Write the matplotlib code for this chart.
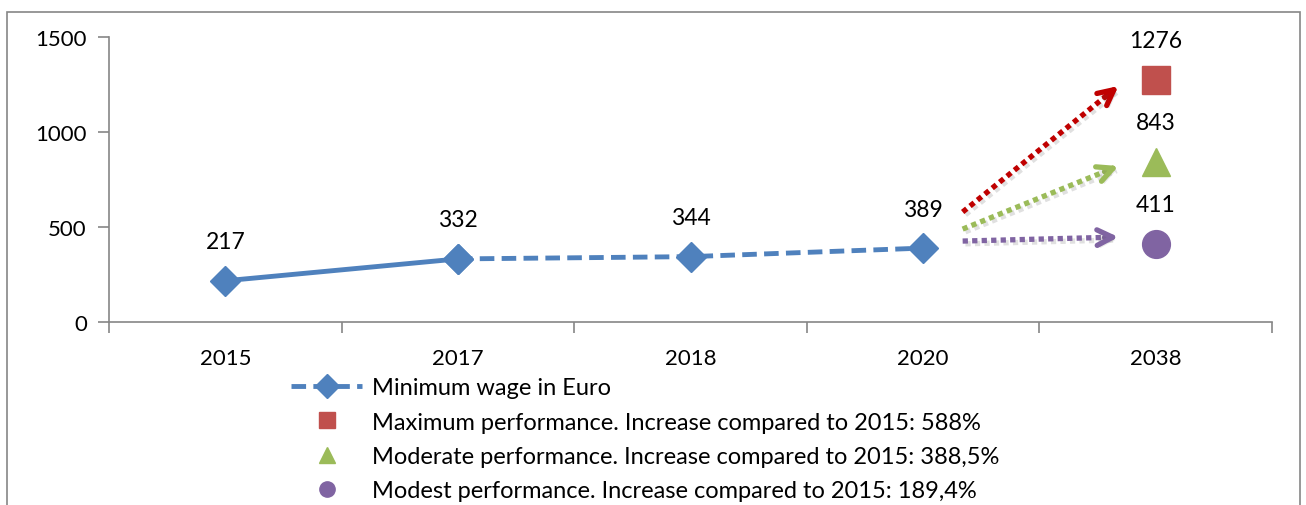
import numpy as np
import matplotlib
matplotlib.use("Agg")
import matplotlib.pyplot as plt
from matplotlib.patches import Rectangle
import matplotlib.patheffects as pe

plt.rcParams['font.family'] = ['Lato', 'DejaVu Sans']

# data
years = ['2015', '2017', '2018', '2020', '2038']
wage = [217, 332, 344, 389]
scenario_names = ['Maximum performance. Increase compared to 2015: 588%',
                  'Moderate performance. Increase compared to 2015: 388,5%',
                  'Modest performance. Increase compared to 2015: 189,4%']
scenario_vals = [1276, 843, 411]
# arrow start heights (annotation placement) and end heights
arrow_start = [579, 489, 426]
arrow_end = [1242, 821, 447]

blue = '#4F81BD'
sc_colors = ['#C0504D', '#9BBB59', '#8064A2']
arrow_colors = ['#C00000', '#9BBB59', '#8064A2']
sc_markers = ['s', '^', 'o']

fig = plt.figure(figsize=(13.06, 5.06), dpi=100)
ax = fig.add_axes([109/1306, 1-323/506, (1272-109)/1306, (323-38)/506])

x = np.arange(len(years))

# solid part 2015-2017, dashed after
ax.plot(x[:2], wage[:2], color=blue, lw=3.5, marker='D', ms=15, solid_capstyle='round')
ax.plot(x[1:4], wage[1:4], color=blue, lw=3.5, ls=(0, (3, 1.5)), marker='D', ms=15,
        label='Minimum wage in Euro')
for xi, v in zip(x[:4], wage):
    ax.text(xi, v + 205, str(v), ha='center', va='center', fontsize=16.5)

for name, v, c, m in zip(scenario_names, scenario_vals, sc_colors, sc_markers):
    ax.plot([x[4]], [v], marker=m, color=c, ms=20, ls='none', label=name)
    ax.text(x[4], v + 205, str(v), ha='center', va='center', fontsize=16.5)

shadow = [pe.SimpleLineShadow(offset=(2, -2), alpha=0.12), pe.Normal()]
pshadow = [pe.SimplePatchShadow(offset=(2, -2), alpha=0.12), pe.Normal()]
x0, x1 = 3.17, 3.84
for s, e, c in zip(arrow_start, arrow_end, arrow_colors):
    ax.plot([x0, x1 - 0.02], [s, e - (e - s) * 0.02 / (x1 - x0)], color=c, lw=3.8,
            ls=(0, (1, 0.8)), dash_capstyle='butt', path_effects=shadow)
    ax.annotate('', xy=(x1, e), xytext=(x1 - 0.06, e - (e - s) * 0.06 / (x1 - x0)),
                arrowprops=dict(arrowstyle='->', color=c, lw=3.8,
                                mutation_scale=28, shrinkA=0, shrinkB=0,
                                path_effects=pshadow))

ax.set_xlim(-0.5, 4.5)
ax.set_ylim(0, 1500)
ax.set_yticks([0, 500, 1000, 1500])
ax.set_xticks(x)
ax.set_xticklabels(years)
ax.set_xticks(np.arange(-0.5, 5, 1), minor=True)
ax.tick_params(axis='x', which='major', length=0, labelsize=16, pad=19)
ax.tick_params(axis='x', which='minor', length=8, color='#868686', width=1.2)
ax.tick_params(axis='y', length=8, color='#868686', width=1.2, labelsize=16, pad=8)
for side in ['top', 'right']:
    ax.spines[side].set_visible(False)
for side in ['left', 'bottom']:
    ax.spines[side].set_color('#868686')
    ax.spines[side].set_linewidth(1.2)

h, l = ax.get_legend_handles_labels()
leg = fig.legend(h, l, loc='upper left', bbox_to_anchor=(282/1306, 1-369/506),
                 frameon=False, fontsize=17, handlelength=3.0, labelspacing=0.56,
                 handletextpad=0.4, borderaxespad=0)
for lh in leg.legend_handles[1:]:
    lh.set_markersize(11)
leg.legend_handles[0].set_markersize(12)

fig.add_artist(Rectangle((7/1306, -0.05), 1293/1306, 1.05 - 13/506, transform=fig.transFigure,
                         fill=False, edgecolor='#868686', lw=1.2))

fig.savefig('out.png', dpi=100)
